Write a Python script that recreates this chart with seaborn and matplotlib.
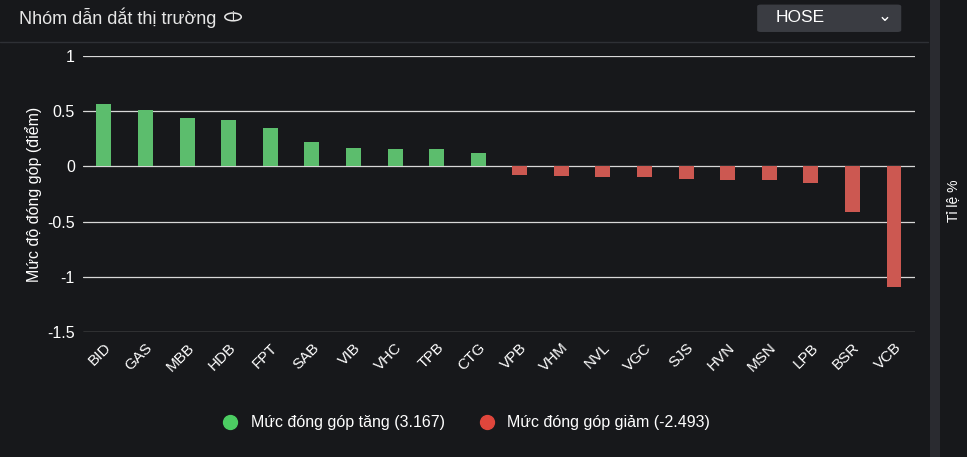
import numpy as np
import pandas as pd
import seaborn as sns
import matplotlib.pyplot as plt
from matplotlib.patches import FancyBboxPatch, Rectangle, Circle

tickers = ['BID', 'GAS', 'MBB', 'HDB', 'FPT', 'SAB', 'VIB', 'VHC', 'TPB', 'CTG',
           'VPB', 'VHM', 'NVL', 'VGC', 'SJS', 'HVN', 'MSN', 'LPB', 'BSR', 'VCB']
values = [0.56, 0.51, 0.44, 0.42, 0.35, 0.22, 0.17, 0.16, 0.16, 0.12,
          -0.08, -0.09, -0.10, -0.10, -0.11, -0.12, -0.12, -0.15, -0.41, -1.09]
up_label = 'Mức đóng góp tăng (3.167)'
down_label = 'Mức đóng góp giảm (-2.493)'

green = '#4ccd62'
red = '#e0463c'
bg = '#17181b'

df = pd.DataFrame({'ticker': tickers, 'value': values})
df['kind'] = np.where(df['value'] >= 0, up_label, down_label)

sns.set_theme(style='dark')
plt.rcParams['font.family'] = ['Liberation Sans', 'DejaVu Sans']

fig = plt.figure(figsize=(9.67, 4.57), dpi=100, facecolor=bg)
ax = fig.add_axes([0.086, 0.273, 0.86, 0.605], facecolor=bg)

sns.barplot(data=df, x='ticker', y='value', hue='kind',
            palette={up_label: green, down_label: red},
            dodge=False, width=0.36, ax=ax, legend=False, edgecolor='none', linewidth=0)

ax.set_ylim(-1.5, 1)
ax.set_yticks([-1.5, -1, -0.5, 0, 0.5, 1])
ax.set_yticklabels(['-1.5', '-1', '-0.5', '0', '0.5', '1'], color='white', fontsize=11.5)
ax.yaxis.grid(True, color='#d8d8d8', linewidth=0.9)
ax.set_axisbelow(True)
ax.set_xlim(-0.5, len(tickers) - 0.5)
plt.setp(ax.get_xticklabels(), rotation=45, ha='right', rotation_mode='anchor',
         color='white', fontsize=11)
ax.tick_params(axis='both', length=0, pad=6)
ax.set_xlabel('')
ax.set_ylabel('Mức độ đóng góp (điểm)', color='white', fontsize=11.5)
for s in ax.spines.values():
    s.set_visible(False)

# header
fig.text(0.02, 0.962, 'Nhóm dẫn dắt thị trường', color='#e6e6e6', fontsize=13, va='center')
fig.add_artist(Circle((0.241, 0.963), 0.0085, transform=fig.transFigure, fill=False,
                      edgecolor='#e6e6e6', lw=1.1))
fig.text(0.241, 0.962, 'i', color='#e6e6e6', fontsize=9, va='center', ha='center')
fig.add_artist(FancyBboxPatch((0.783, 0.93), 0.149, 0.06, boxstyle='round,pad=0,rounding_size=0.004',
                              transform=fig.transFigure, facecolor='#3a3c42', edgecolor='none'))
fig.text(0.802, 0.961, 'HOSE', color='white', fontsize=12.5, va='center')
fig.text(0.915, 0.963, '⌄', color='white', fontsize=12, va='center', ha='center')
fig.add_artist(plt.Line2D([0, 0.96], [0.908, 0.908], color='#2e3035', lw=1, transform=fig.transFigure))
fig.add_artist(Rectangle((0.962, 0), 0.01, 1, transform=fig.transFigure, facecolor='#2a2b30', edgecolor='none'))
fig.text(0.978, 0.56, 'Tỉ lệ %', color='white', fontsize=10, rotation=90, va='center')

# legend
handles = [plt.Line2D([], [], marker='o', ls='', color=green, markersize=10),
           plt.Line2D([], [], marker='o', ls='', color=red, markersize=10)]
fig.legend(handles, [up_label, down_label], loc='center', bbox_to_anchor=(0.478, 0.075),
           ncol=2, frameon=False, fontsize=11.5, labelcolor='white', handletextpad=0.3,
           columnspacing=1.6)

fig.savefig('out.png', dpi=100, facecolor=bg)
